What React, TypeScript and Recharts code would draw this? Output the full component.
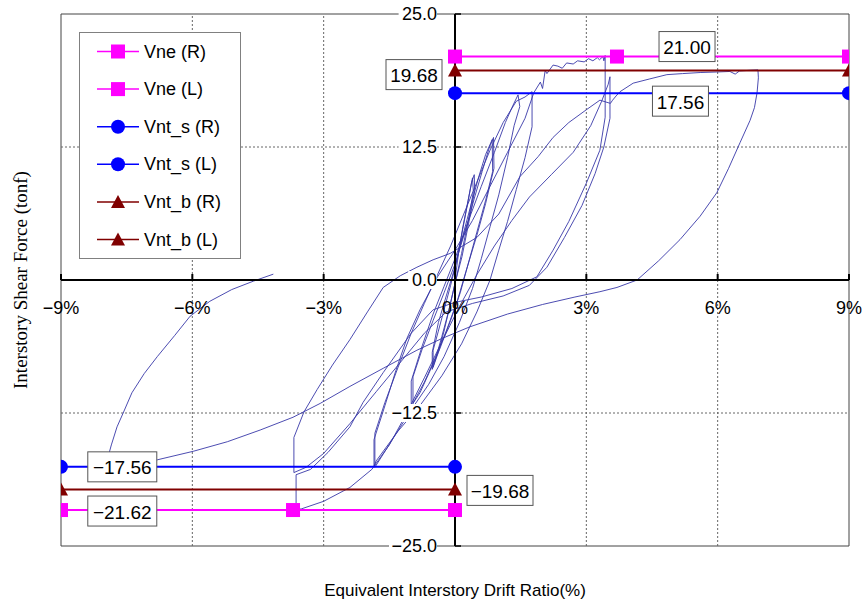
import React from 'react';
import { ComposedChart, Line, XAxis, YAxis, ReferenceLine, ReferenceArea, ReferenceDot, Legend } from 'recharts';

// ---------- data ----------
const xTicks = [-9, -6, -3, 0, 3, 6, 9];
const xTickLabels = ['\u22129%', '\u22126%', '\u22123%', '0%', '3%', '6%', '9%'];
const yTicks = [25, 12.5, 0, -12.5, -25];
const yTickLabels = ['25.0', '12.5', '0.0', '\u221212.5', '\u221225.0'];
const gridX = [-6, -3, 3, 6];
const gridY = [12.5, -12.5];

const vneRDrift = [0, 3.7, 9];
const vneRValue = 21.0;
const vneLDrift = [-9, -3.7, 0];
const vneLValue = -21.62;
const vntsRDrift = [0, 9];
const vntsRValue = 17.56;
const vntsLDrift = [-9, 0];
const vntsLValue = -17.56;
const vntbRDrift = [0, 9];
const vntbRValue = 19.68;
const vntbLDrift = [-9, 0];
const vntbLValue = -19.68;

// measured hysteresis (drift %, shear tonf)
const hysteresisDrift = [
  0, 0.08, 0.18, 0.3, 0.4, 0.42,
  0.3, 0.15, 0.02, -0.12, -0.25, -0.38, -0.5, -0.5,
  -0.38, -0.25, -0.1, 0.02, 0.15, 0.28, 0.38, 0.44, 0.45,
  0.32, 0.16, 0.0, -0.15, -0.3, -0.45, -0.52, -0.52,
  -0.38, -0.2, 0, 0.2, 0.4, 0.55, 0.7, 0.85, 0.86,
  0.7, 0.5, 0.3, 0.12, -0.1, -0.35, -0.6, -0.8, -0.96, -0.96,
  -0.75, -0.5, -0.25, 0, 0.25, 0.45, 0.62, 0.78, 0.88, 0.89,
  0.7, 0.5, 0.25, 0.05, -0.2, -0.45, -0.7, -0.95, -1.0, -1.0,
  -0.75, -0.5, -0.25, 0, 0.3, 0.6, 0.9, 1.15, 1.3, 1.44, 1.48,
  1.35, 1.2, 1.0, 0.8, 0.6, 0.4, 0.1, -0.25, -0.6, -1.0, -1.4, -1.83, -1.83,
  -1.6, -1.3, -1.0, -0.7, -0.4, -0.1, 0.2, 0.5, 0.8, 1.1, 1.4, 1.6, 1.76, 1.76,
  1.6, 1.4, 1.2, 1.0, 0.8, 0.5, 0.15, -0.3, -0.8, -1.3, -1.8, -1.85, -1.85,
  -1.6, -1.35, -1.1, -0.8, -0.4, 0, 0.4, 0.8, 1.2, 1.6, 1.8, 1.95, 2.0, 2.06, 2.1, 2.24, 2.35, 2.45, 2.55, 2.7, 2.8, 2.95, 3.05, 3.15, 3.25, 3.3, 3.38, 3.4, 3.43, 3.43,
  3.31, 3.0, 2.6, 2.24, 1.87, 1.3, 0.6, 0, -0.5, -1.0, -1.64, -2.1, -2.4, -2.9, -3.3, -3.63, -3.63,
  -3.5, -3.0, -2.4, -1.9, -1.5, -1.1, -0.7, -0.3, 0.1, 0.5, 0.9, 1.3, 1.7, 2.2, 2.7, 3.1, 3.35, 3.5, 3.54, 3.54,
  3.4, 3.2, 2.9, 2.5, 2.1, 1.7, 1.1, 0.4, -0.2, -0.7, -1.2, -1.8, -2.4, -3.0, -3.4, -3.68, -3.68,
  -3.45, -3.15, -2.8, -2.4, -2.0, -1.64, -1.25, -0.87, -0.5, -0.11, 0.5, 1.0, 1.48, 1.9, 2.24, 2.6, 3.0, 3.31, 3.55, 3.6, 3.68, 3.77, 4.07, 4.45, 4.84, 5.2, 5.6, 5.98, 6.28, 6.4, 6.5, 6.7, 6.92,
  6.93, 6.9, 6.84, 6.74, 6.51, 6.25, 5.98, 5.6, 5.14, 4.65, 4.16, 3.7, 3.31, 2.74, 2.0, 1.2, 0.34, -0.3, -0.87, -1.64, -2.4, -3.08, -3.7, -4.45, -5.2, -5.98, -6.8, -7.5, -8.0,
  -7.95, -7.85, -7.72, -7.58, -7.38, -7.1, -6.8, -6.4, -6.05, -5.6, -5.1, -4.6, -4.15,
];
const hysteresisShear = [
  0, 2.5, 5, 7.5, 9.6, 8.3,
  5.5, 2.5, 0, -2.5, -4.8, -6.8, -8.2, -6.6,
  -4.8, -2.8, -0.5, 1.5, 4.2, 7, 9.2, 9.9, 8.4,
  5.5, 2.2, -0.3, -3, -5.3, -7.5, -8.4, -6.8,
  -4, -1.5, 1.2, 4.5, 7.6, 9.8, 11.8, 13.2, 10.2,
  7.5, 4.5, 1.5, -1.2, -3.8, -6.5, -8.8, -10.6, -11.6, -9.1,
  -6.5, -3.8, -1.2, 1.5, 4.8, 7.8, 10.2, 12.4, 13.4, 10.5,
  7.2, 4.2, 0.8, -2, -4.8, -7.3, -9.6, -11.5, -12, -9.5,
  -6.2, -3.2, -0.6, 2, 5.5, 8.8, 12, 14.8, 16.2, 17.4, 16.3,
  14.5, 11.5, 8, 5, 2, -0.8, -4, -7.2, -9.8, -12.2, -14.8, -17.6, -14.4,
  -11.5, -8.2, -5, -2.2, 0.5, 3.2, 6.2, 9.2, 12.2, 14.8, 16.8, 17.2, 17.7, 14.4,
  11.5, 8.5, 5.5, 2.8, 0, -3, -6, -9, -11.8, -14.2, -17, -17.5, -15,
  -11.8, -8.5, -5.5, -2.8, 0.3, 2.8, 5.6, 8.8, 12, 15.2, 17.6, 18.6, 18.0, 19.7, 19.4, 20.2, 20.1, 19.9, 20.4, 20.3, 20.6, 20.5, 20.8, 20.6, 20.9, 20.7, 21.0, 20.6, 21.1, 15.3,
  12.2, 9.1, 5.5, 2.8, 0.3, -0.8, -1.6, -2.1, -2.8, -5, -8.7, -11.5, -13.8, -16.2, -17.8, -18.3, -21.6,
  -21.5, -20.8, -19.5, -17.8, -15.5, -12.5, -9.2, -5.8, -2.5, 0.5, 3.2, 5.6, 7.8, 9.9, 12, 14.5, 16.8, 18.4, 19.1, 15.2,
  12.5, 10, 7, 4, 1.2, -0.5, -1.5, -2.2, -3, -5, -7.5, -10.5, -13.5, -16.3, -17.6, -18.1, -14.8,
  -12.4, -10.3, -8, -5.6, -3, -0.7, 0.4, 1.2, 1.9, 2.5, 4, 6.2, 9.7, 11.6, 13.4, 14.8, 16, 16.9, 16.6, 16.9, 17.3, 17.7, 18.5, 18.9, 19.3, 19.4, 19.5, 19.55, 19.6, 19.35, 19.65, 19.7, 19.75,
  19.0, 17.6, 16.2, 15, 12.9, 10.5, 8.2, 6, 3.8, 1.8, 0, -0.7, -1.1, -1.6, -2.3, -3.2, -4.4, -5.5, -6.6, -8.3, -10, -11.6, -12.9, -14.1, -15.2, -16.1, -16.9, -17.4, -17.6,
  -17.0, -15.5, -13.8, -12.5, -10.6, -8.8, -7.2, -5.2, -3.4, -2.0, -0.9, -0.1, 0.55,
];

const legendNames = ['Vne (R)', 'Vne (L)', 'Vnt_s (R)', 'Vnt_s (L)', 'Vnt_b (R)', 'Vnt_b (L)'];

// ---------- build ----------
const hysteresisData = hysteresisDrift.map((x, i) => ({ x, y: hysteresisShear[i] }));
const flat = (drifts: number[], v: number) => drifts.map((x) => ({ x, y: v }));

const MAGENTA = '#ff00ff';
const BLUE = '#0000ff';
const DARKRED = '#800000';
const FONT = '"Liberation Sans", Arial, sans-serif';

type Kind = 'square' | 'circle' | 'triangle';
const marker = (kind: Kind, cx: number, cy: number, color: string, key?: string) => {
  if (kind === 'square') return <rect key={key} x={cx - 7} y={cy - 7} width={14} height={14} fill={color} />;
  if (kind === 'circle') return <circle key={key} cx={cx} cy={cy} r={7} fill={color} />;
  return <polygon key={key} points={`${cx},${cy - 7} ${cx - 7},${cy + 6} ${cx + 7},${cy + 6}`} fill={color} />;
};
const dotFor = (kind: Kind, color: string) => (p: any) => {
  if (p.cx == null || p.cy == null) return <g key={p.index} />;
  return marker(kind, p.cx, p.cy, color, `m${p.index}`);
};

const series = [
  { name: legendNames[0], data: flat(vneRDrift, vneRValue), color: MAGENTA, kind: 'square' as Kind },
  { name: legendNames[1], data: flat(vneLDrift, vneLValue), color: MAGENTA, kind: 'square' as Kind },
  { name: legendNames[2], data: flat(vntsRDrift, vntsRValue), color: BLUE, kind: 'circle' as Kind },
  { name: legendNames[3], data: flat(vntsLDrift, vntsLValue), color: BLUE, kind: 'circle' as Kind },
  { name: legendNames[4], data: flat(vntbRDrift, vntbRValue), color: DARKRED, kind: 'triangle' as Kind },
  { name: legendNames[5], data: flat(vntbLDrift, vntbLValue), color: DARKRED, kind: 'triangle' as Kind },
];

const LegendBox = () => (
  <svg width={162} height={227} style={{ display: 'block' }}>
    <rect x={0.5} y={0.5} width={161} height={226} fill="#fff" stroke="#808080" />
    {series.map((s, i) => {
      const cy = 19.5 + i * 37.6;
      return (
        <g key={s.name}>
          <line x1={18} x2={60} y1={cy} y2={cy} stroke={s.color} strokeWidth={1.5} />
          {marker(s.kind, 39, cy, s.color)}
          <text x={65} y={cy} dominantBaseline="central" fontFamily={FONT} fontSize={18} fill="#000">{s.name}</text>
        </g>
      );
    })}
  </svg>
);

const xTickShape = (label: string) => (p: any) => (
  <g>
    <line x1={p.cx} x2={p.cx} y1={p.cy} y2={p.cy - 6} stroke="#000" strokeWidth={2} />
    <text x={p.cx} y={p.cy + 28} textAnchor="middle" dominantBaseline="central" fontFamily={FONT} fontSize={18} fill="#000">{label}</text>
  </g>
);
const yTickShape = (label: string) => (p: any) => {
  const w = label.length * 9.6;
  return (
    <g>
      <rect x={p.cx - 18 - w} y={p.cy - 9} width={w} height={18} fill="#fff" />
      <line x1={p.cx} x2={p.cx + 6} y1={p.cy} y2={p.cy} stroke="#000" strokeWidth={1.5} />
      <text x={p.cx - 18} y={p.cy} textAnchor="end" dominantBaseline="central" fontFamily={FONT} fontSize={18} fill="#000">{label}</text>
    </g>
  );
};
const boxShape = (text: string, w: number, dx: number, dy: number) => (p: any) => (
  <g>
    <rect x={p.cx + dx - w / 2} y={p.cy + dy - 15} width={w} height={30} fill="#fff" stroke="#555" strokeWidth={1} />
    <text x={p.cx + dx} y={p.cy + dy + 1} textAnchor="middle" dominantBaseline="central" fontFamily={FONT} fontSize={19} fill="#000">{text}</text>
  </g>
);
const xTitleShape = (p: any) => (
  <text x={p.cx} y={p.cy + 44} textAnchor="middle" dominantBaseline="central" fontFamily={FONT} fontSize={17} fill="#000">
    Equivalent Interstory Drift Ratio(%)
  </text>
);
const yTitleShape = (p: any) => (
  <text x={p.cx - 41} y={p.cy} transform={`rotate(-90 ${p.cx - 41} ${p.cy})`} textAnchor="middle" dominantBaseline="central" fontFamily='"Liberation Serif", "Times New Roman", serif' fontSize={19} fill="#000">
    Interstory Shear Force (tonf)
  </text>
);

export default function App() {
  return (
    <div style={{ position: 'absolute', left: 0, top: 0, background: '#fff' }}>
      <ComposedChart width={862} height={603} margin={{ top: 14, right: 13, bottom: 57, left: 61 }}>
        <XAxis type="number" dataKey="x" domain={[-9, 9]} hide allowDataOverflow height={0} />
        <YAxis type="number" domain={[-25, 25]} hide allowDataOverflow width={0} />
        <ReferenceArea x1={-9} x2={9} y1={-25} y2={25} fill="#fff" fillOpacity={0} stroke="#444" strokeWidth={1} ifOverflow="visible" />
        {gridX.map((g) => (
          <ReferenceLine key={`gx${g}`} x={g} stroke="#666" strokeDasharray="2 2" strokeWidth={1} />
        ))}
        {gridY.map((g) => (
          <ReferenceLine key={`gy${g}`} y={g} stroke="#666" strokeDasharray="2 2" strokeWidth={1} />
        ))}
        <Line data={hysteresisData} dataKey="y" type="linear" stroke="#3838a8" strokeWidth={0.9} dot={false} activeDot={false} isAnimationActive={false} legendType="none" />
        <ReferenceLine y={0} stroke="#000" strokeWidth={2} />
        <ReferenceLine x={0} stroke="#000" strokeWidth={2} />
        {series.map((s) => (
          <Line key={s.name} name={s.name} data={s.data} dataKey="y" type="linear" stroke={s.color} strokeWidth={2} dot={dotFor(s.kind, s.color)} activeDot={false} isAnimationActive={false} />
        ))}
        {xTicks.map((t, i) => (
          <ReferenceDot key={`xt${t}`} x={t} y={0} r={0} ifOverflow="visible" shape={xTickShape(xTickLabels[i])} />
        ))}
        {yTicks.map((t, i) => (
          <ReferenceDot key={`yt${t}`} x={0} y={t} r={0} ifOverflow="visible" shape={yTickShape(yTickLabels[i])} />
        ))}
        <ReferenceDot x={5.3} y={vneRValue} r={0} ifOverflow="visible" shape={boxShape('21.00', 56, 0, -10)} />
        <ReferenceDot x={0} y={vntbRValue} r={0} ifOverflow="visible" shape={boxShape('19.68', 56, -41, 4)} />
        <ReferenceDot x={5.15} y={vntsRValue} r={0} ifOverflow="visible" shape={boxShape('17.56', 56, 0, 8)} />
        <ReferenceDot x={-7.6} y={vntsLValue} r={0} ifOverflow="visible" shape={boxShape('\u221217.56', 69, 0, 0)} />
        <ReferenceDot x={0} y={vntbLValue} r={0} ifOverflow="visible" shape={boxShape('\u221219.68', 66, 45, 1)} />
        <ReferenceDot x={-7.6} y={vneLValue} r={0} ifOverflow="visible" shape={boxShape('\u221221.62', 69, 0, 1)} />
        <ReferenceDot x={0} y={-25} r={0} ifOverflow="visible" shape={xTitleShape} />
        <ReferenceDot x={-9} y={0} r={0} ifOverflow="visible" shape={yTitleShape} />
        <Legend layout="vertical" align="center" verticalAlign="middle" wrapperStyle={{ left: 79, top: 32, width: 162, height: 227 }} content={() => <LegendBox />} />
      </ComposedChart>
    </div>
  );
}
